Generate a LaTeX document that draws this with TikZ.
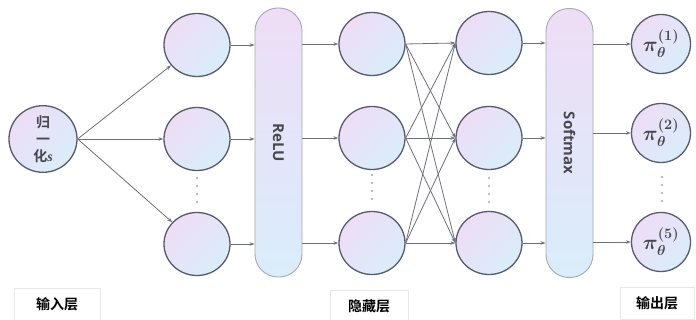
\documentclass[tikz,border=0pt]{standalone}
\usepackage{amsmath}
\usepackage{bm}
\usepackage{fontspec}
\setmainfont{Open Sans}
\newfontfamily\cjk{Noto Sans CJK SC}[BoldFont={Noto Sans CJK SC Bold}]
\newfontfamily\serifs{Liberation Serif}
\usetikzlibrary{shapes.geometric,arrows.meta}
\definecolor{lav}{HTML}{EEDDF6}
\definecolor{lblue}{HTML}{D9EDFA}
\definecolor{rim}{HTML}{565C6C}
\definecolor{barrim}{HTML}{A6A8B2}
\definecolor{arr}{HTML}{6E7078}
\definecolor{txtg}{HTML}{48484F}
\newcommand{\piout}[1]{{\fontsize{21}{23}\selectfont\boldmath$\pi_{\theta}^{(#1)}$}}
\begin{document}
\begin{tikzpicture}[x=1pt,y=-1pt,
  neuron/.style={ellipse,draw=rim,line width=1.3pt,inner sep=0pt,
    minimum width=66pt,minimum height=63pt,
    top color=lav,bottom color=lblue,shading angle=45},
  outn/.style={neuron,minimum width=59pt,minimum height=59pt,text=txtg},
  barbox/.style={rectangle,rounded corners=23pt,draw=barrim,line width=0.9pt,
    minimum width=47pt,minimum height=269pt,inner sep=0pt,
    top color=lav,bottom color=lblue},
  bartext/.style={font=\bfseries\fontsize{15}{17}\selectfont,text=txtg,rotate=-90},
  conn/.style={draw=arr,line width=0.8pt,-{Stealth[length=5pt,width=3.5pt]}},
  layerlab/.style={draw=gray!18,line width=0.6pt,inner sep=0pt,
    font=\cjk\bfseries\fontsize{14}{16}\selectfont,text=black},
  dotc/.style={fill=gray!70,draw=none}
]
\useasboundingbox[fill=white] (0,0) rectangle (696,320);

% input
\node[neuron,minimum width=68pt,minimum height=64pt,align=center,text=txtg,
  font=\cjk\bfseries\fontsize{14}{17}\selectfont] (in) at (43,139)
  {归\\一\\化{\serifs\bfseries\itshape s}};

% column 1
\node[neuron] (c1) at (197,45) {};
\node[neuron] (c2) at (197,139) {};
\node[neuron] (c3) at (197,244) {};

% ReLU bar
\node[barbox] (relu) at (278.5,142.5) {};
\node[bartext] (relut) at (relu.center) {ReLU};

% hidden 1
\node[neuron] (h11) at (372,44) {};
\node[neuron] (h12) at (372,138) {};
\node[neuron] (h13) at (372,243) {};

% hidden 2
\node[neuron] (h21) at (489,43) {};
\node[neuron] (h22) at (489,138) {};
\node[neuron] (h23) at (489,243) {};

% Softmax bar
\node[barbox] (sm) at (569.5,143) {};
\node[bartext] (smt) at (sm.center) {Softmax};

% outputs
\node[outn] (o1) at (661,44) {\piout{1}};
\node[outn] (o2) at (661,133) {\piout{2}};
\node[outn] (o3) at (661,242) {\piout{5}};

% connectors
\foreach \t in {c1,c2,c3} \draw[conn] (in.east) -- (\t);
\foreach \s in {c1,c2,c3} \draw[conn] (\s.east) -- (\s.east -| relu.west);
\foreach \t in {h11,h12,h13} \draw[conn] (relu.east |- \t.west) -- (\t.west);
\foreach \s in {h11,h12,h13}
  \foreach \t in {h21,h22,h23}
    \draw[conn] (\s.east) -- (\t.west);
\foreach \s in {h21,h22,h23} \draw[conn] (\s.east) -- (\s.east -| sm.west);
\foreach \t in {o1,o2,o3} \draw[conn] (sm.east |- \t.west) -- (\t.west);

% vertical dots
\foreach \x/\ya in {197/178,372/175,489/178,662/177}
  \foreach \k in {0,1,2,3}
    \fill[dotc] (\x,\ya+8*\k) circle (1.1pt);

% layer labels
\node[layerlab,minimum width=86pt,minimum height=32pt] (lin) at (57,304) {输入层};
\node[layerlab,minimum width=78pt,minimum height=32pt] (lhid) at (369,306) {隐藏层};
\node[layerlab,minimum width=74pt,minimum height=32pt] (lout) at (657,303) {输出层};
\end{tikzpicture}
\end{document}
